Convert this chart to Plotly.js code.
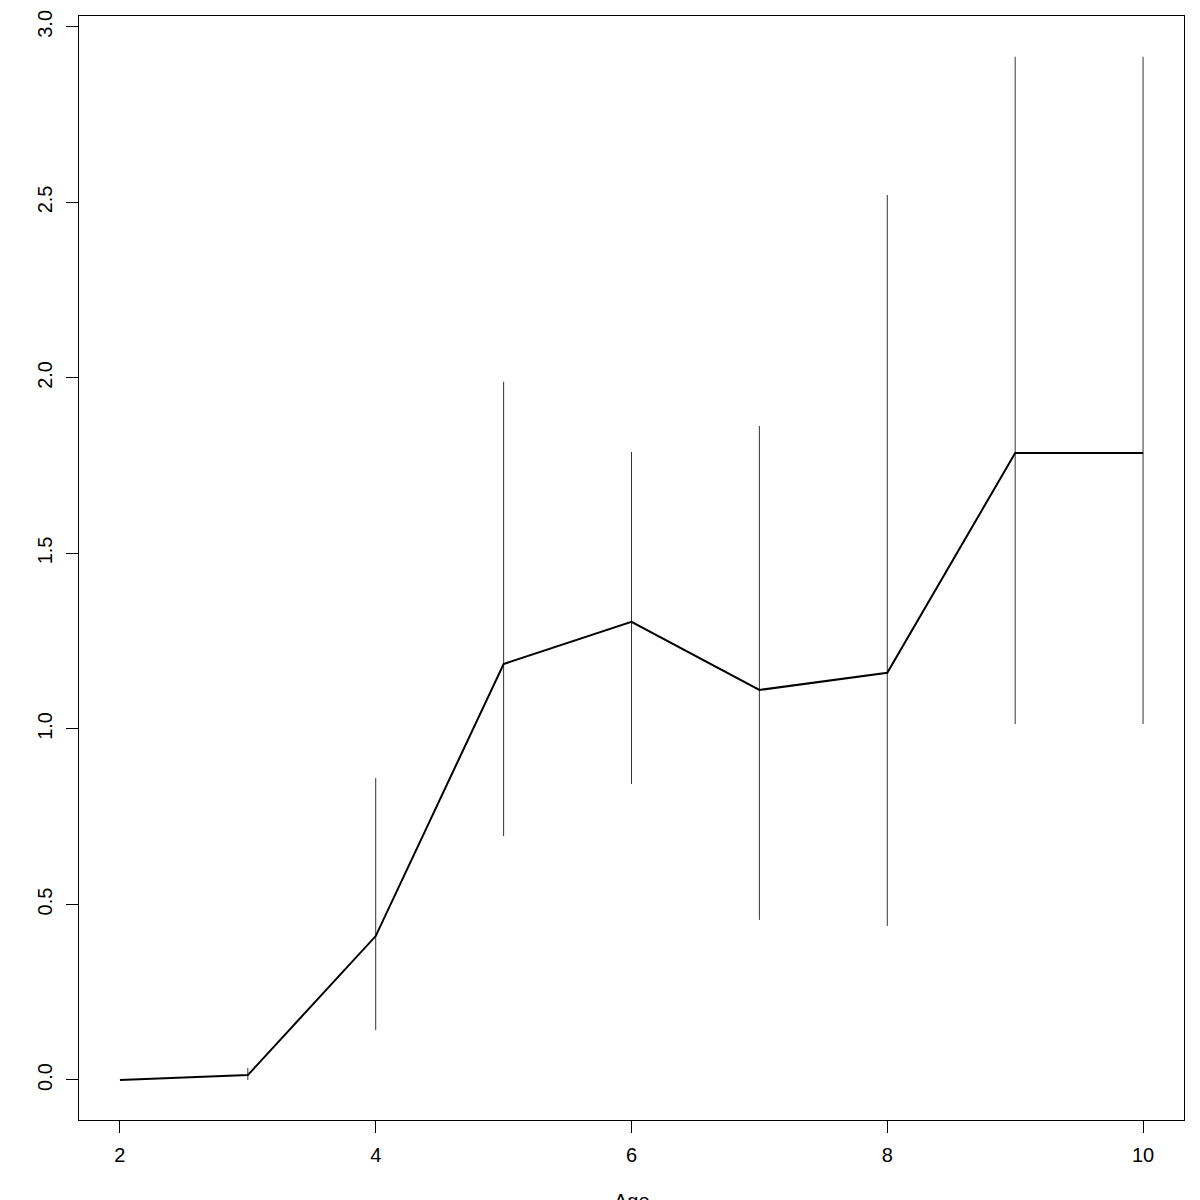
<!DOCTYPE html>
<html>
<head>
<meta charset="utf-8">
<script src="https://cdn.plot.ly/plotly-3.0.1.min.js"></script>
<style>html,body{margin:0;padding:0;background:#fff;}#chart{width:1200px;height:1200px;}</style>
</head>
<body>
<div id="chart"></div>
<script>
const xValues = [2, 3, 4, 5, 6, 7, 8, 9, 10];
const meanValues = [0, 0.014, 0.41, 1.185, 1.305, 1.111, 1.16, 1.786, 1.786];
const lowerValues = [0, 0, 0.142, 0.695, 0.843, 0.456, 0.439, 1.014, 1.014];
const upperValues = [0, 0.034, 0.86, 1.989, 1.789, 1.863, 2.521, 2.915, 2.915];
const xTicks = [2, 4, 6, 8, 10];
const yTicks = [0, 0.5, 1, 1.5, 2, 2.5, 3];
const yTickText = ["0.0", "0.5", "1.0", "1.5", "2.0", "2.5", "3.0"];
const xLabel = "Age";
const yLabel = "Annual";

const plus = upperValues.map((u, i) => u - meanValues[i]);
const minus = lowerValues.map((l, i) => meanValues[i] - l);

const font = {family: "Liberation Sans, Arial, sans-serif", size: 20, color: "#000"};

const trace = {
  x: xValues, y: meanValues, type: "scatter", mode: "lines",
  line: {color: "#000", width: 2},
  error_y: {type: "data", symmetric: false, array: plus, arrayminus: minus,
            color: "#333", thickness: 1, width: 0},
  hoverinfo: "skip"
};

const layout = {
  width: 1200, height: 1200,
  margin: {l: 79, r: 16, t: 16, b: 80, pad: 0},
  paper_bgcolor: "#fff", plot_bgcolor: "#fff",
  showlegend: false,
  font: font,
  xaxis: {
    range: [1.68, 10.32], tickvals: xTicks, ticktext: xTicks.map(String),
    ticks: "outside", ticklen: 12, tickwidth: 1, tickcolor: "#000",
    showline: true, mirror: true, linecolor: "#000", linewidth: 1,
    showgrid: false, zeroline: false, tickfont: font, ticklabelstandoff: 5
  },
  yaxis: {
    range: [-0.114, 3.031], tickvals: yTicks, ticktext: yTickText,
    ticks: "outside", ticklen: 12, tickwidth: 1, tickcolor: "#000",
    showline: true, mirror: true, linecolor: "#000", linewidth: 1,
    showgrid: false, zeroline: false, tickfont: font, tickangle: -90,
    ticklabelstandoff: 6
  },
  annotations: [
    {text: xLabel, xref: "paper", yref: "paper", x: 0.5, y: -0.0616,
     xanchor: "center", yanchor: "top", showarrow: false, font: font},
    {text: yLabel, xref: "paper", yref: "paper", x: -0.0716, y: 0.5,
     xanchor: "right", yanchor: "middle", textangle: -90, showarrow: false, font: font}
  ]
};

Plotly.newPlot("chart", [trace], layout, {staticPlot: true, displayModeBar: false});
</script>
</body>
</html>
